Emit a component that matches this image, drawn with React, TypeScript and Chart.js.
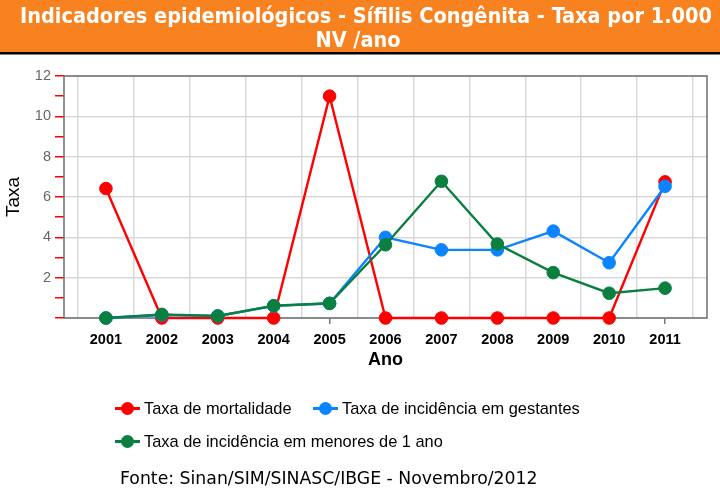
import React, { useEffect, useRef } from 'react';
import { Chart, registerables } from 'chart.js';

Chart.register(...registerables);

const titleLines = ['Indicadores epidemiológicos - Sífilis Congênita - Taxa por 1.000', 'NV /ano'];
const years = [2001, 2002, 2003, 2004, 2005, 2006, 2007, 2008, 2009, 2010, 2011];
const mortalidade = [6.42, 0, 0, 0, 11.0, 0, 0, 0, 0, 0, 6.75];
const gestantes = [0, 0.15, 0.1, 0.6, 0.72, 4.0, 3.38, 3.38, 4.31, 2.74, 6.53];
const menores = [0, 0.18, 0.1, 0.61, 0.73, 3.63, 6.78, 3.67, 2.25, 1.23, 1.48];
const seriesNames = ['Taxa de mortalidade', 'Taxa de incidência em gestantes', 'Taxa de incidência em menores de 1 ano'];
const seriesColors = ['#ff0000', '#0a84ff', '#0a7f40'];
const yAxisTitle = 'Taxa';
const xAxisTitle = 'Ano';
const footerText = 'Fonte: Sinan/SIM/SINASC/IBGE - Novembro/2012';

const W = 720;
const H = 497;

const toPoints = (vals: number[]) => vals.map((v, i) => ({ x: years[i], y: v }));

const decorPlugin = {
  id: 'decor',
  beforeDatasetsDraw(chart: any) {
    const { ctx, chartArea } = chart;
    ctx.save();
    ctx.strokeStyle = '#6e6e6e';
    ctx.lineWidth = 1.5;
    ctx.strokeRect(chartArea.left, chartArea.top, chartArea.right - chartArea.left, chartArea.bottom - chartArea.top);
    ctx.restore();
  },
  afterDraw(chart: any) {
    const { ctx } = chart;
    ctx.save();
    // header band
    ctx.fillStyle = '#f8821f';
    ctx.fillRect(0, 0, W, 52);
    ctx.fillStyle = '#000';
    ctx.fillRect(0, 52, W, 2.5);
    ctx.fillStyle = '#ffffff';
    ctx.textAlign = 'center';
    ctx.textBaseline = 'alphabetic';
    let size = 22;
    ctx.font = `bold ${size}px "DejaVu Sans Condensed", "DejaVu Sans", sans-serif`;
    const w = ctx.measureText(titleLines[0]).width;
    size = size * 692 / w;
    ctx.font = `bold ${size}px "DejaVu Sans Condensed", "DejaVu Sans", sans-serif`;
    ctx.fillText(titleLines[0], 366, 22.5);
    ctx.fillText(titleLines[1], 358, 47);

    // legend
    const items = [
      { x: 115, y: 408.5 },
      { x: 313, y: 408.5 },
      { x: 115, y: 441.5 },
    ];
    ctx.font = '16.4px "Liberation Sans", Arial, sans-serif';
    ctx.textAlign = 'left';
    ctx.textBaseline = 'middle';
    items.forEach((it, i) => {
      ctx.strokeStyle = seriesColors[i];
      ctx.lineWidth = 3;
      ctx.beginPath();
      ctx.moveTo(it.x, it.y);
      ctx.lineTo(it.x + 25, it.y);
      ctx.stroke();
      ctx.fillStyle = seriesColors[i];
      ctx.beginPath();
      ctx.arc(it.x + 12.5, it.y, 6.5, 0, Math.PI * 2);
      ctx.fill();
      ctx.fillStyle = '#000';
      ctx.fillText(seriesNames[i], it.x + 29, it.y + 0.5);
    });

    // footer
    ctx.font = '17.3px "DejaVu Sans", Verdana, sans-serif';
    ctx.textBaseline = 'alphabetic';
    ctx.fillStyle = '#000';
    ctx.fillText(footerText, 120, 483.5);
    ctx.restore();
  },
};

export default function App() {
  const ref = useRef<HTMLCanvasElement | null>(null);

  useEffect(() => {
    document.body.style.margin = '0';
    const canvas = ref.current;
    if (!canvas) return;
    const halfTicks: number[] = [years[0] - 0.5];
    years.forEach((y) => {
      halfTicks.push(y);
      halfTicks.push(y + 0.5);
    });
    const isInt = (v: number) => Math.abs(v - Math.round(v)) < 1e-6;

    const chart = new Chart(canvas, {
      type: 'line',
      data: {
        datasets: [
          { label: seriesNames[0], data: toPoints(mortalidade), order: 3 },
          { label: seriesNames[1], data: toPoints(gestantes), order: 2 },
          { label: seriesNames[2], data: toPoints(menores), order: 1 },
        ].map((d, i) => ({
          ...d,
          borderColor: seriesColors[i],
          backgroundColor: seriesColors[i],
          pointBackgroundColor: seriesColors[i],
          pointBorderColor: seriesColors[i],
          pointBorderWidth: 1,
          pointRadius: 6.3,
          borderWidth: 2.4,
          tension: 0,
          fill: false,
          clip: false,
        })),
      },
      plugins: [decorPlugin],
      options: {
        responsive: false,
        animation: false,
        layout: { padding: { top: 76, left: 0, right: 13, bottom: 119 } },
        plugins: {
          legend: { display: false },
          title: { display: false },
          tooltip: { enabled: false },
        },
        scales: {
          x: {
            type: 'linear',
            min: years[0] - 0.75,
            max: years[years.length - 1] + 0.75,
            afterBuildTicks: (s: any) => {
              s.ticks = halfTicks.map((v) => ({ value: v }));
            },
            afterFit: (s: any) => {
              s.height = 60;
            },
            ticks: {
              autoSkip: false,
              maxRotation: 0,
              minRotation: 0,
              padding: 7,
              color: '#000',
              font: { family: '"Liberation Sans", Arial, sans-serif', size: 14.5, weight: 'bold' },
              callback: (v: any) => (isInt(Number(v)) ? String(Math.round(Number(v))) : ''),
            },
            grid: {
              color: (c: any) => (c.tick && !isInt(c.tick.value) ? '#d9d9d9' : 'rgba(0,0,0,0)'),
              tickColor: (c: any) => (c.tick && isInt(c.tick.value) ? '#777777' : 'rgba(0,0,0,0)'),
              tickLength: 6,
              lineWidth: 1.5,
            },
            border: { display: false },
            title: {
              display: true,
              text: xAxisTitle,
              color: '#000',
              font: { family: '"Liberation Sans", Arial, sans-serif', size: 18, weight: 'bold' },
              padding: { top: 0, bottom: 7 },
            },
          },
          y: {
            min: 0,
            max: 12,
            afterFit: (s: any) => {
              s.width = 64;
            },
            ticks: {
              stepSize: 1,
              autoSkip: false,
              padding: 4,
              color: '#666666',
              font: { family: '"Liberation Sans", Arial, sans-serif', size: 14.5 },
              callback: (v: any) => (Number(v) % 2 === 0 && Number(v) !== 0 ? String(v) : ''),
            },
            grid: {
              color: (c: any) => (c.tick && c.tick.value % 2 === 0 ? '#d9d9d9' : 'rgba(0,0,0,0)'),
              tickColor: '#ff0000',
              tickLength: 9,
              lineWidth: 1.5,
            },
            border: { display: false },
            title: {
              display: true,
              text: yAxisTitle,
              color: '#000',
              font: { family: '"Liberation Sans", Arial, sans-serif', size: 19 },
              padding: { top: 2, bottom: 0 },
            },
          },
        },
      },
    } as any);
    return () => chart.destroy();
  }, []);

  return (
    <div style={{ width: W, height: H }}>
      <canvas ref={ref} width={W} height={H} style={{ display: 'block' }} />
    </div>
  );
}
